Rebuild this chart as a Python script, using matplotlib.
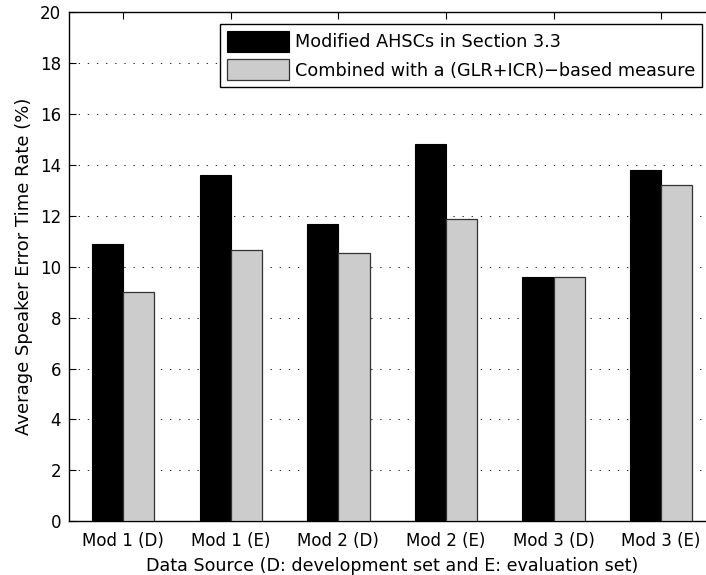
import numpy as np
import matplotlib
matplotlib.use('Agg')
import matplotlib.pyplot as plt

plt.rcParams['font.family'] = ['DejaVu Sans']
plt.rcParams['font.size'] = 12

categories = ['Mod 1 (D)', 'Mod 1 (E)', 'Mod 2 (D)', 'Mod 2 (E)', 'Mod 3 (D)', 'Mod 3 (E)']
modified_ahsc = [10.9, 13.6, 11.68, 14.84, 9.61, 13.8]
combined_glr_icr = [9.0, 10.66, 10.53, 11.89, 9.61, 13.21]
series_names = ['Modified AHSCs in Section 3.3', 'Combined with a (GLR+ICR)\u2212based measure']
yticks = np.arange(0, 21, 2)

fig = plt.figure(figsize=(7.06, 5.75), dpi=100)
ax = fig.add_axes([0.0982, 0.0934, 0.9144, 0.8852])

x = np.arange(1, len(categories) + 1)
w = 0.29
ax.bar(x - w / 2, modified_ahsc, w, color='black', edgecolor='black', linewidth=0.8,
       label=series_names[0], zorder=3)
ax.bar(x + w / 2, combined_glr_icr, w, color='#cccccc', edgecolor='#333333', linewidth=0.9,
       label=series_names[1], zorder=3)

ax.set_xlim(0.5, 6.5)
ax.set_ylim(0, 20)
ax.set_xticks(x)
ax.set_xticklabels(categories)
ax.set_yticks(yticks)
ax.tick_params(direction='in', top=True, right=True, length=5, width=0.8)
ax.tick_params(axis='x', pad=8)
ax.tick_params(axis='y', pad=6)
ax.yaxis.grid(True, linestyle=(0, (1.4, 8)), color='#222222', linewidth=0.7, zorder=0)
for s in ax.spines.values():
    s.set_linewidth(1.0)

ax.set_xlabel('Data Source (D: development set and E: evaluation set)', fontsize=12.6, labelpad=5)
ax.set_ylabel('Average Speaker Error Time Rate (%)', fontsize=13, labelpad=5)

leg = ax.legend(loc='upper right', bbox_to_anchor=(701.7 / 706, 1 - 24 / 575),
                bbox_transform=fig.transFigure, borderaxespad=0, fancybox=False,
                edgecolor='black', framealpha=1, fontsize=12.7, handlelength=3.5,
                handleheight=1.455, labelspacing=0.43, handletextpad=0.33, borderpad=0.38)
leg.get_frame().set_linewidth(1.0)

fig.savefig('out.png', dpi=100)
